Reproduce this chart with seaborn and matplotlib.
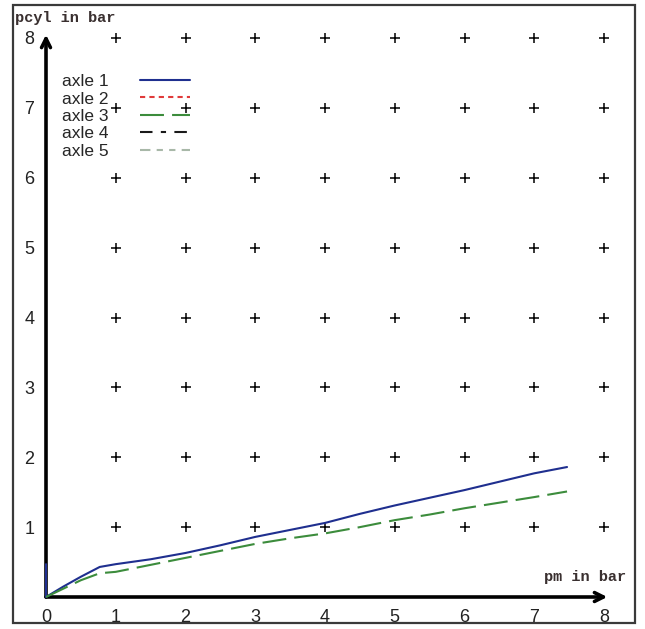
import matplotlib.pyplot as plt
import pandas as pd
import seaborn as sns
from matplotlib.lines import Line2D
from matplotlib.patches import Rectangle

# values
axle_names = ["axle 1", "axle 2", "axle 3", "axle 4", "axle 5"]
pm_axle1 = [0, 0, 0.25, 0.5, 0.77, 1.0, 1.5, 2.0, 2.5, 3.0, 3.5, 4.0, 4.5, 5.0, 5.5, 6.0, 6.5, 7.0, 7.47]
pcyl_axle1 = [0.47, 0, 0.15, 0.29, 0.43, 0.47, 0.54, 0.63, 0.74, 0.86, 0.96, 1.06, 1.19, 1.31, 1.42, 1.53, 1.65, 1.77, 1.86]
pm_axle3 = [0, 0.25, 0.5, 0.77, 1.0, 1.5, 2.0, 2.5, 3.0, 3.5, 4.0, 4.5, 5.0, 5.5, 6.0, 6.5, 7.0, 7.47]
pcyl_axle3 = [0, 0.12, 0.24, 0.34, 0.36, 0.46, 0.56, 0.66, 0.76, 0.84, 0.91, 1.00, 1.10, 1.18, 1.27, 1.35, 1.43, 1.51]
# axles 2, 4 and 5 have no visible curve
pm_empty = []
pcyl_empty = []
grid_ticks = [1, 2, 3, 4, 5, 6, 7, 8]
x_ticks = [0, 1, 2, 3, 4, 5, 6, 7, 8]
y_ticks = [1, 2, 3, 4, 5, 6, 7, 8]

styles = {
    "axle 1": dict(color="#1f2f8f", ls="-"),
    "axle 2": dict(color="#e03a3a", ls=(0, (2.5, 2.0))),
    "axle 3": dict(color="#3c8c3c", ls=(0, (11.5, 3.9))),
    "axle 4": dict(color="#1a1a1a", ls=(0, (6, 4, 2.5, 4))),
    "axle 5": dict(color="#a8b8a8", ls=(0, (5, 3, 3, 3, 3, 3))),
}

sns.set_style("white")
plt.rcParams["font.family"] = ["Liberation Sans", "DejaVu Sans"]

fig = plt.figure(figsize=(6.45, 6.29), dpi=100)
W, H = 645, 629
ax = fig.add_axes([46 / W, (H - 597) / H, (604 - 46) / W, (597 - 38) / H])
ax.set_facecolor("white")

# outer frame
fig.patches.append(Rectangle((13 / W, (H - 623) / H), (635 - 13) / W, (623 - 5) / H,
                             transform=fig.transFigure, fill=False, lw=1.6, ec="#3a3a3a"))

# grid of plus markers
gx = [x for x in grid_ticks for _ in grid_ticks]
gy = [y for _ in grid_ticks for y in grid_ticks]
ax.scatter(gx, gy, marker="+", s=50, c="black", linewidths=1.1, zorder=1, clip_on=False)

# axes drawn as arrows
ax.annotate("", xy=(1.006, 0), xytext=(0, 0), xycoords="axes fraction",
            arrowprops=dict(arrowstyle="->", lw=2.6, color="black", mutation_scale=16,
                            shrinkA=0, shrinkB=0), zorder=2)
ax.annotate("", xy=(0, 1.006), xytext=(0, 0), xycoords="axes fraction",
            arrowprops=dict(arrowstyle="->", lw=2.6, color="black", mutation_scale=16,
                            shrinkA=0, shrinkB=0), zorder=2)

# curves
df1 = pd.DataFrame({"pm": pm_axle1, "pcyl": pcyl_axle1})
df3 = pd.DataFrame({"pm": pm_axle3, "pcyl": pcyl_axle3})
sns.lineplot(data=df1, x="pm", y="pcyl", sort=False, estimator=None, ax=ax,
             color=styles["axle 1"]["color"], linestyle=styles["axle 1"]["ls"], lw=1.5,
             zorder=3, clip_on=False)
sns.lineplot(data=df3, x="pm", y="pcyl", sort=False, estimator=None, ax=ax,
             color=styles["axle 3"]["color"], linestyle=styles["axle 3"]["ls"], lw=1.5,
             zorder=3, clip_on=False)
for name in ["axle 2", "axle 4", "axle 5"]:
    ax.plot(pm_empty, pcyl_empty, color=styles[name]["color"], ls=styles[name]["ls"], lw=1.5)

ax.set_xlim(0, 8)
ax.set_ylim(0, 8)
for s in ax.spines.values():
    s.set_visible(False)

ax.set_xticks(x_ticks)
ax.set_yticks(y_ticks)
ax.set_xticklabels([str(t) for t in x_ticks])
ax.set_yticklabels([str(t) for t in y_ticks])
ax.tick_params(axis="both", direction="inout", length=11, width=1.4, color="black",
               labelsize=13, labelcolor="#222222", pad=3)
ax.set_xlabel("")
ax.set_ylabel("")

# hide tick marks at the arrow ends
for t in ax.xaxis.get_major_ticks()[-1:] + ax.xaxis.get_major_ticks()[:1] + ax.yaxis.get_major_ticks()[-1:]:
    t.tick1line.set_visible(False)

fig.text(15 / W, 1 - 18 / H, "pcyl in bar", family="Liberation Mono", fontsize=11,
         fontweight="bold", color="#3a3030", ha="left", va="center")
fig.text(626 / W, 1 - 577 / H, "pm in bar", family="Liberation Mono", fontsize=11,
         fontweight="bold", color="#3a3030", ha="right", va="center")

# legend
handles = [Line2D([], [], color=styles[n]["color"], ls=styles[n]["ls"], lw=1.5) for n in axle_names]
ax.legend(handles, axle_names, loc="upper left", bbox_to_anchor=(62 / W, 1 - 74 / H),
          bbox_transform=fig.transFigure, frameon=False, markerfirst=False,
          handlelength=2.9, handletextpad=1.8, labelspacing=0.13,
          borderpad=0, borderaxespad=0, prop={"family": "Liberation Sans", "size": 12.5})

fig.savefig("out.png", dpi=100, facecolor="white")
